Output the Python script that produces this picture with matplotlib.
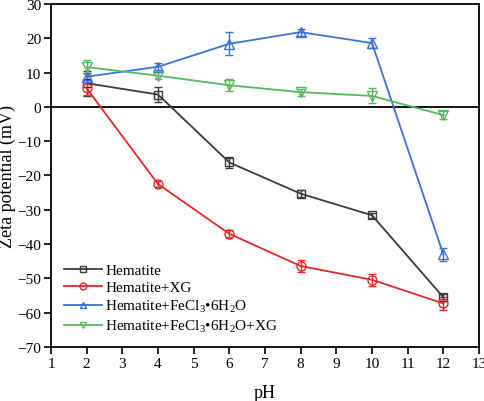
import numpy as np
import matplotlib
matplotlib.use("Agg")
import matplotlib.pyplot as plt
from matplotlib.lines import Line2D

plt.rcParams['font.family'] = ['Liberation Serif', 'DejaVu Serif']
plt.rcParams['mathtext.fontset'] = 'custom'
plt.rcParams['mathtext.rm'] = 'Liberation Serif'
plt.rcParams['mathtext.it'] = 'Liberation Serif:italic'

ph = [2, 4, 6, 8, 10, 12]

hem = [6.9, 3.6, -16.2, -25.3, -31.6, -55.5]
hem_err = [3.6, 2.1, 1.7, 1.0, 0.8, 1.0]

hem_xg = [5.4, -22.5, -37.0, -46.4, -50.4, -57.3]
hem_xg_err = [2.0, 0.8, 1.0, 1.8, 1.8, 1.8]

hem_fe = [8.8, 11.7, 18.4, 21.8, 18.6, -43.0]
hem_fe_err = [1.0, 1.0, 3.3, 1.0, 1.5, 2.0]

hem_fe_xg = [11.6, 9.1, 6.3, 4.3, 3.2, -2.4]
hem_fe_xg_err = [2.0, 1.0, 1.8, 1.0, 2.2, 1.2]

labels = ["Hematite", "Hematite+XG",
          "Hematite+FeCl$_3$\u20226H$_2$O",
          "Hematite+FeCl$_3$\u20226H$_2$O+XG"]
colors = ["#3a3a3a", "#e8252b", "#3b6fe0", "#55b95e"]
markers = ["s", "o", "^", "v"]
msizes = [5.5, 6.5, 6.5, 6.5]

fig = plt.figure(figsize=(4.84, 4.02), dpi=100)
ax = fig.add_axes([0.1054, 0.1343, 0.8843, 0.8533])

ax.axhline(0, color="black", lw=1.3, zorder=1)

series = [(hem, hem_err), (hem_xg, hem_xg_err), (hem_fe, hem_fe_err), (hem_fe_xg, hem_fe_xg_err)]
handles = []
for (y, e), lab, c, m, s in zip(series, labels, colors, markers, msizes):
    ax.errorbar(ph, y, yerr=e, color=c, marker=m, ms=s, mfc="none", mec=c,
                mew=1.0, lw=1.3, capsize=3, elinewidth=1.0, capthick=1.0, zorder=3)
    handles.append(Line2D([], [], color=c, marker=m, ms=s - 1.5, mfc="none", mec=c, mew=1.0, lw=1.3, label=lab))

ax.set_xlim(1, 13)
ax.set_ylim(-70, 30)
ax.set_xticks(range(1, 14))
ax.set_yticks(range(-70, 31, 10))
ax.tick_params(direction="out", length=5, width=1.2, pad=2, labelsize=11, top=False, right=False)
for s in ax.spines.values():
    s.set_linewidth(1.3)

ax.set_xlabel("pH", fontsize=13, labelpad=10)
ax.set_ylabel("Zeta potential (mV)", fontsize=13)
ax.yaxis.set_label_coords(-0.082, 0.5)

ax.legend(handles=handles, loc="lower left", bbox_to_anchor=(0.005, 0.006), frameon=False, fontsize=11,
          handlelength=2.5, handletextpad=0.2, labelspacing=0.25, borderaxespad=0.3)

fig.savefig("out.png", dpi=100)
